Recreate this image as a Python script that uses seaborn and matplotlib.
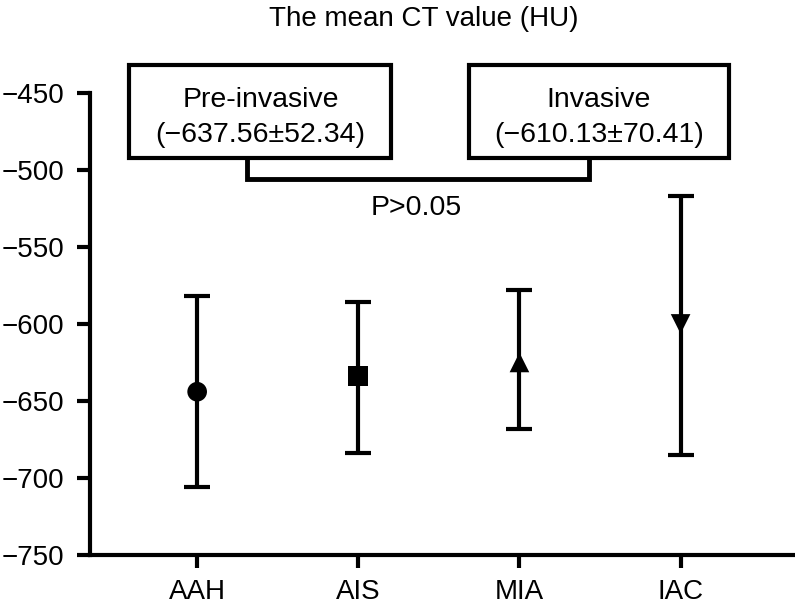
import pandas as pd
import seaborn as sns
import matplotlib.pyplot as plt
from matplotlib.patches import Rectangle

# values
groups = ['AAH', 'AIS', 'MIA', 'IAC']
mean_ct = [-644, -634, -625, -600]
err_top = [-582, -586, -578, -517]
err_bottom = [-706, -684, -668, -685]
marker_map = {'AAH': 'o', 'AIS': 's', 'MIA': '^', 'IAC': 'v'}

box_labels = ['Pre-invasive\n(\u2212637.56\u00b152.34)', 'Invasive\n(\u2212610.13\u00b170.41)']
p_text = 'P>0.05'
y_ticks = [-750, -700, -650, -600, -550, -500, -450]

df = pd.DataFrame({'group': groups, 'mean': mean_ct, 'top': err_top, 'bottom': err_bottom})

sns.set_style('ticks', {'axes.edgecolor': 'black', 'text.color': 'black',
                        'xtick.color': 'black', 'ytick.color': 'black'})
plt.rcParams['font.family'] = ['Liberation Sans', 'DejaVu Sans']

fig = plt.figure(figsize=(7.95, 6.08), dpi=100)
ax = fig.add_axes([0.1132, 0.0872, 0.8868, 0.836])

# error bars (mean, min/max)
ax.errorbar(df['group'], df['mean'],
            yerr=[df['mean'] - df['bottom'], df['top'] - df['mean']],
            fmt='none', ecolor='black', elinewidth=3, capsize=9.5, capthick=3)

sns.scatterplot(data=df, x='group', y='mean', style='group', markers=marker_map,
                color='black', s=200, linewidth=0, legend=False, ax=ax, zorder=5)

ax.set_xlim(-0.665, 3.71)
ax.set_ylim(-750, -420)
ax.set_yticks(y_ticks)
ax.set_yticklabels([str(t).replace('-', '\u2212') for t in y_ticks])
ax.spines['left'].set_bounds(-750, -450)
sns.despine(ax=ax)
for s in ['left', 'bottom']:
    ax.spines[s].set_linewidth(3)
ax.tick_params(width=3, length=9.5, labelsize=20, pad=9, colors='black')
ax.tick_params(axis='x', pad=8)
ax.set_xlabel('')
ax.set_ylabel('')

# group boxes and bracket
box_y0, box_y1 = -492, -432
for (x0, x1), lab in zip([(-0.42, 1.205), (1.685, 3.30)], box_labels):
    ax.add_patch(Rectangle((x0, box_y0), x1 - x0, box_y1 - box_y0, fill=False,
                           edgecolor='black', linewidth=3, clip_on=False, zorder=6))
    ax.text((x0 + x1) / 2, (box_y0 + box_y1) / 2 - 4, lab, ha='center', va='center',
            fontsize=20.5, linespacing=1.42, color='black')

ax.plot([0.31, 0.31, 2.43, 2.43], [box_y0, -506, -506, box_y0], color='black',
        linewidth=3.5, solid_joinstyle='miter', clip_on=False)
ax.text(1.36, -516, p_text, ha='center', va='top', fontsize=20.5, color='black')

fig.text(0.533, 0.968, 'The mean CT value (HU)', ha='center', va='center',
         fontsize=20, color='black')

fig.savefig('out.png', dpi=100)
